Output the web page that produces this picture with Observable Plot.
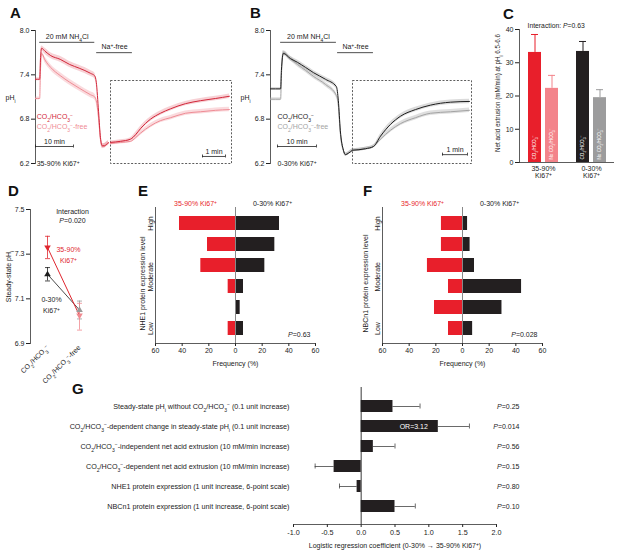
<!DOCTYPE html>
<html><head><meta charset="utf-8">
<script src="https://cdn.jsdelivr.net/npm/d3@7"></script>
<script src="https://cdn.jsdelivr.net/npm/@observablehq/plot@0.6"></script>
<style>
body{margin:0;background:#fff;}
#fig{position:relative;width:617px;height:553px;overflow:hidden;background:#fff;font-family:"Liberation Sans",Arial,sans-serif;color:#222;}
#fig svg{position:absolute;overflow:visible;background:transparent;}
.lt{position:absolute;font-weight:bold;font-size:15px;line-height:15px;font-family:"Liberation Sans",Arial,sans-serif;color:#111;}
</style></head><body><div id="fig"></div>
<script>
// ---------------- DATA ----------------
// Panel A (35-90% Ki67+): time (min), pHi, SEM
const tA = [0, 1.1, 1.3, 1.6, 2.5, 4.0, 6.5, 9.0, 11.5, 14.5, 15.6, 16.0, 16.6, 17.1, 17.6, 18.2, 18.7, 19.2];
const phA_co2 = [7.34, 7.34, 7.60, 7.76, 7.72, 7.66, 7.61, 7.54, 7.49, 7.42, 7.385, 7.30, 6.90, 6.55, 6.44, 6.44, 6.46, 6.485];
const phA_free = [7.08, 7.08, 7.45, 7.69, 7.60, 7.50, 7.39, 7.30, 7.22, 7.13, 7.10, 7.05, 6.82, 6.53, 6.43, 6.44, 6.46, 6.47];
const semA = [0.02, 0.02, 0.03, 0.03, 0.04, 0.04, 0.04, 0.04, 0.04, 0.04, 0.04, 0.04, 0.03, 0.03, 0.03, 0.03, 0.03, 0.03];
// Panel A inset (recovery, min)
const tAz = [0, 0.43, 0.87, 1.09, 1.30, 1.74, 2.17, 2.61, 3.26, 3.91, 4.57, 5.17];
const phAz_co2 = [6.485, 6.50, 6.53, 6.59, 6.67, 6.80, 6.88, 6.94, 7.01, 7.05, 7.08, 7.11];
const phAz_free = [6.47, 6.485, 6.50, 6.55, 6.61, 6.71, 6.78, 6.82, 6.88, 6.90, 6.92, 6.93];
const semAz = [0.02, 0.02, 0.02, 0.03, 0.03, 0.03, 0.03, 0.03, 0.03, 0.03, 0.03, 0.03];
// Panel B (0-30% Ki67+)
const tB = [0, 2.6, 2.8, 3.3, 5.1, 6.9, 9.0, 11.0, 14.1, 16.9, 17.4, 17.9, 18.7, 19.2, 20.0, 21.0];
const phB_co2 = [7.21, 7.21, 7.46, 7.69, 7.62, 7.57, 7.50, 7.43, 7.34, 7.24, 7.05, 6.65, 6.38, 6.32, 6.34, 6.38];
const phB_free = [7.07, 7.07, 7.39, 7.70, 7.62, 7.54, 7.46, 7.38, 7.27, 7.12, 6.99, 6.62, 6.38, 6.32, 6.34, 6.38];
const semB = [0.02, 0.02, 0.03, 0.03, 0.03, 0.03, 0.03, 0.03, 0.03, 0.03, 0.03, 0.03, 0.02, 0.02, 0.02, 0.02];
const tBz = [0, 0.52, 0.84, 1.12, 1.52, 1.92, 2.52, 3.12, 3.92, 4.68];
const phBz_co2 = [6.38, 6.40, 6.43, 6.57, 6.73, 6.84, 6.93, 6.99, 7.03, 7.04];
const phBz_free = [6.38, 6.40, 6.43, 6.53, 6.65, 6.74, 6.82, 6.88, 6.90, 6.92];
const semBz = [0.02, 0.02, 0.02, 0.03, 0.03, 0.03, 0.03, 0.03, 0.03, 0.03];
const phTicks = [6.2, 6.8, 7.4, 8.0];
// solution periods (min)
const solA = [{name: "20 mM NH_{4}Cl", t1: 1.1, t2: 15.6}, {name: "Na^{+}-free", t1: 16.1, t2: 25.5}];
const solB = [{name: "20 mM NH_{4}Cl", t1: 2.6, t2: 16.9}, {name: "Na^{+}-free", t1: 17.2, t2: 26.4}];

// Panel C
const CO2 = "CO_{2}/HCO_{3}^{−}";
const groupsC = ["35-90%\nKi67^{+}", "0-30%\nKi67^{+}"];
const condC = ["with", "without"];
const valuesC = [33.1, 22.3, 33.4, 19.5];
const upperC = [38.5, 26.2, 36.4, 21.9];
const inBarC = [CO2, "No " + CO2];

// Panel D
const condD = [CO2, CO2 + "-free"];
const hiMean = [7.33, 7.025], hiLo = [7.28, 6.96], hiHi = [7.38, 7.08];
const loMean = [7.21, 7.05], loLo = [7.18, 7.01], loHi = [7.24, 7.09];

// Panels E, F: frequency (%) by expression level (6 = high ... 1 = low)
const levels = [6, 5, 4, 3, 2, 1];
const nhe1_hi = [42, 21, 26, 5.5, 0, 5.5];
const nhe1_lo = [33, 29.5, 22, 6, 3.5, 6];
const nbc_hi = [15.8, 15.8, 26.3, 10.5, 21, 10.5];
const nbc_lo = [3.8, 5.7, 9, 44.3, 29.6, 7.6];

// Panel G
const labelsG = [
  "Steady-state pH_{i} without " + CO2 + " (0.1 unit increase)",
  CO2 + "-dependent change in steady-state pH_{i} (0.1 unit increase)",
  CO2 + "-independent net acid extrusion (10 mM/min increase)",
  CO2 + "-dependent net acid extrusion (10 mM/min increase)",
  "NHE1 protein expression (1 unit increase, 6-point scale)",
  "NBCn1 protein expression (1 unit increase, 6-point scale)"
];
const coefG = [0.47, 1.14, 0.18, -0.40, -0.06, 0.50];
const boundG = [0.87, 1.60, 0.50, -0.68, -0.32, 0.80];
const pG = ["0.25", "0.014", "0.56", "0.15", "0.80", "0.10"];
const orLabel = "OR=3.12";

// ---------------- HELPERS ----------------
const fig = document.getElementById("fig");
const baseStyle = {overflow: "visible", background: "transparent", fontFamily: '"Liberation Sans", Arial, sans-serif', fontSize: "7px", color: "#222"};
const NS = "http://www.w3.org/2000/svg";
function tsp(s) { const t = document.createElementNS(NS, "tspan"); t.textContent = s; return t; }
function rich(root) {
  for (const el of root.querySelectorAll("text, tspan")) {
    if (el.childElementCount) continue;
    const s = el.textContent;
    if (!/[_^*]\{/.test(s)) continue;
    el.textContent = "";
    const re = /([_^*])\{([^}]*)\}/g;
    let last = 0, m;
    while ((m = re.exec(s))) {
      if (m.index > last) el.appendChild(tsp(s.slice(last, m.index)));
      const t = tsp(m[2]);
      if (m[1] === "_") { t.setAttribute("baseline-shift", "sub"); t.setAttribute("font-size", "70%"); }
      else if (m[1] === "^") { t.setAttribute("baseline-shift", "super"); t.setAttribute("font-size", "70%"); }
      else t.setAttribute("font-style", "italic");
      el.appendChild(t);
      last = re.lastIndex;
    }
    if (last < s.length) el.appendChild(tsp(s.slice(last)));
  }
}
function mk(opts, left, top) {
  const svg = Plot.plot({...opts, style: {...baseStyle, ...(opts.style || {})}});
  svg.style.position = "absolute";
  svg.style.left = left + "px";
  svg.style.top = top + "px";
  rich(svg);
  fig.appendChild(svg);
}
function letter(ch, x, y) {
  const d = document.createElement("div"); d.className = "lt"; d.textContent = ch;
  d.style.left = x + "px"; d.style.top = y + "px"; fig.appendChild(d);
}
const rows = (t, ph, se) => t.map((x, i) => ({t: x, ph: ph[i], se: se[i]}));
function traceMarks(list) {
  const marks = [];
  for (const s of list) marks.push(Plot.areaY(s.data, {x: "t", y1: d => d.ph - d.se, y2: d => d.ph + d.se, fill: s.band, curve: "monotone-x"}));
  for (const s of list) marks.push(Plot.line(s.data, {x: "t", y: "ph", stroke: s.stroke, strokeWidth: 1, curve: "monotone-x"}));
  return marks;
}
const AX = "#333";
const RED = "#d2273a", RED_L = "#ef8c95", RED_BAND = "rgba(226,90,104,0.28)", RED_LBAND = "rgba(242,160,168,0.38)";
const BLK = "#1e1e1e", GRY = "#a3a3a3", BLK_BAND = "rgba(110,110,110,0.25)", GRY_BAND = "rgba(170,170,170,0.38)";
const CRED = "#e81f2b", CPINK = "#f3848b", CBLK = "#231f20", CGRY = "#9c9c9d";

// ---------------- PANELS A & B ----------------
function tracePanel({left, axisX, tMax, pxPerMin, main, zoom, zoomLeft, zoomWidth, zoomMax, sol, legendT, c1, c2, label, barT, zBar}) {
  const innerW = tMax * pxPerMin;
  const W = 235;
  mk({
    width: W, height: 175, marginLeft: axisX - left, marginRight: W - (axisX - left) - innerW, marginTop: 30, marginBottom: 12,
    x: {domain: [0, tMax], axis: null},
    y: {domain: [6.2, 8.0], ticks: phTicks, tickFormat: d => d.toFixed(1), tickSize: 4, tickPadding: 2, label: null},
    marks: [
      Plot.frame({anchor: "left", stroke: AX, strokeWidth: 0.8}),
      ...traceMarks(main),
      Plot.ruleY([sol[0]], {x1: "t1", x2: "t2", y: 7.84, stroke: "#222", strokeWidth: 0.8}),
      Plot.text([sol[0]], {x: d => (d.t1 + d.t2) / 2, y: 7.84, dy: -6, text: "name", fontSize: 7}),
      Plot.ruleY([sol[1]], {x1: "t1", x2: "t2", y: 7.70, stroke: "#222", strokeWidth: 0.8}),
      Plot.text([sol[1]], {x: d => (d.t1 + d.t2) / 2, y: 7.70, dy: -6, text: "name", fontSize: 7}),
      Plot.text([CO2], {x: legendT, y: 6.83, textAnchor: "start", fill: c1, fontSize: 7}),
      Plot.text([CO2 + "-free"], {x: legendT, y: 6.70, textAnchor: "start", fill: c2, fontSize: 7}),
      Plot.ruleY([barT], {x1: d => d[0], x2: d => d[1], y: 6.43, stroke: "#222", strokeWidth: 0.8}),
      Plot.ruleX(barT, {y1: 6.41, y2: 6.45, stroke: "#222", strokeWidth: 0.8}),
      Plot.text(["10 min"], {x: (barT[0] + barT[1]) / 2, y: 6.43, dy: -5, fontSize: 7}),
      Plot.text([label], {x: legendT, y: 6.2, textAnchor: "start", fontSize: 7}),
      Plot.text(["pH_{i}"], {frameAnchor: "left", dx: -25, dy: 1, textAnchor: "middle", fontSize: 7})
    ]
  }, left, 0);
  mk({
    width: zoomWidth, height: 175, marginLeft: 0, marginRight: 0, marginTop: 30, marginBottom: 12,
    x: {domain: [0, zoomMax], axis: null},
    y: {domain: [6.2, 8.0], axis: null},
    marks: [
      Plot.frame({insetTop: 50, stroke: "#333", strokeWidth: 0.8, strokeDasharray: "2,1.6"}),
      ...traceMarks(zoom),
      Plot.ruleY([zBar], {x1: d => d[0], x2: d => d[1], y: zBar[2], stroke: "#222", strokeWidth: 0.8}),
      Plot.ruleX(zBar.slice(0, 2), {y1: zBar[2] - 0.02, y2: zBar[2] + 0.02, stroke: "#222", strokeWidth: 0.8}),
      Plot.text(["1 min"], {x: (zBar[0] + zBar[1]) / 2, y: zBar[2], dy: -5, fontSize: 7})
    ]
  }, zoomLeft, 0);
}

tracePanel({
  left: 0, axisX: 35, tMax: 19.5, pxPerMin: 3.8,
  main: [{data: rows(tA, phA_free, semA), stroke: RED_L, band: RED_LBAND}, {data: rows(tA, phA_co2, semA), stroke: RED, band: RED_BAND}],
  zoom: [{data: rows(tAz, phAz_free, semAz), stroke: RED_L, band: RED_LBAND}, {data: rows(tAz, phAz_co2, semAz), stroke: RED, band: RED_BAND}],
  zoomLeft: 110, zoomWidth: 121, zoomMax: 5.26, sol: solA, legendT: 0.3, c1: RED, c2: RED_L,
  label: "35-90% Ki67^{+}", barT: [0, 10], zBar: [4.0, 5.0, 6.295]
});
tracePanel({
  left: 235, axisX: 270, tMax: 21, pxPerMin: 3.9,
  main: [{data: rows(tB, phB_free, semB), stroke: GRY, band: GRY_BAND}, {data: rows(tB, phB_co2, semB), stroke: BLK, band: BLK_BAND}],
  zoom: [{data: rows(tBz, phBz_free, semBz), stroke: GRY, band: GRY_BAND}, {data: rows(tBz, phBz_co2, semBz), stroke: BLK, band: BLK_BAND}],
  zoomLeft: 352, zoomWidth: 119, zoomMax: 4.76, sol: solB, legendT: 1.8, c1: BLK, c2: GRY,
  label: "0-30% Ki67^{+}", barT: [1.8, 11.8], zBar: [3.6, 4.6, 6.32]
});

// ---------------- PANEL C ----------------
const dataC = valuesC.map((v, i) => ({group: groupsC[Math.floor(i / 2)], cond: condC[i % 2], value: v, upper: upperC[i], txt: inBarC[i % 2]}));
const keyC = d => d.group + "|" + d.cond;
const keysC = dataC.map(keyC);
const cMargins = {width: 157, height: 190, marginLeft: 59, marginRight: 3, marginTop: 29, marginBottom: 28};
mk({
  ...cMargins,
  fx: {domain: groupsC, paddingInner: 0.3, paddingOuter: 0.135, axis: "bottom", label: null, tickSize: 0, tickPadding: 4},
  x: {domain: condC, paddingInner: 0.26, paddingOuter: 0.13, axis: null},
  y: {domain: [0, 40], axis: null},
  color: {domain: keysC, range: [CRED, CPINK, CBLK, CGRY]},
  marks: [
    Plot.ruleX(dataC, {fx: "group", x: "cond", y1: "value", y2: "upper", stroke: keyC, strokeWidth: 1}),
    Plot.tickY(dataC, {fx: "group", x: "cond", y: "upper", stroke: keyC, strokeWidth: 1, insetLeft: 3, insetRight: 3}),
    Plot.barY(dataC, {fx: "group", x: "cond", y: "value", fill: keyC}),
    Plot.text(dataC, {fx: "group", x: "cond", y: 0, text: "txt", rotate: -90, textAnchor: "start", dy: -3, fill: "white", fontSize: 4.6})
  ]
}, 460, 0);
mk({
  ...cMargins,
  x: {domain: [0, 1], axis: null},
  y: {domain: [0, 40], ticks: [0, 10, 20, 30, 40], tickSize: 4, tickPadding: 2, label: null},
  marks: [
    Plot.frame({anchor: "left", stroke: AX, strokeWidth: 0.8}),
    Plot.ruleY([0], {stroke: AX, strokeWidth: 0.8}),
    Plot.text(["Interaction: *{P}=0.63"], {frameAnchor: "top-left", dx: 8, dy: -4, lineAnchor: "middle", textAnchor: "start", fontSize: 6.8}),
    Plot.text(["Net acid extrusion (mM/min) at pH_{i} 6.5-6.6"], {frameAnchor: "left", rotate: -90, dx: -22, dy: -3, textAnchor: "middle", fontSize: 6.3})
  ]
}, 460, 0);

// ---------------- PANEL D ----------------
const hiD = condD.map((c, i) => ({cond: c, mean: hiMean[i], lo: hiLo[i], hi: hiHi[i]}));
const loD = condD.map((c, i) => ({cond: c, mean: loMean[i], lo: loLo[i], hi: loHi[i]}));
const cap = {draw(ctx, size) { const w = Math.sqrt(size / Math.PI); ctx.moveTo(-w, 0); ctx.lineTo(w, 0); }};
const triDown = {draw(ctx, size) { const w = Math.sqrt(size / Math.PI); ctx.moveTo(-w, -w * 0.6); ctx.lineTo(w, -w * 0.6); ctx.lineTo(0, w * 1.1); ctx.closePath(); }};
const triUp = {draw(ctx, size) { const w = Math.sqrt(size / Math.PI); ctx.moveTo(-w, w * 0.6); ctx.lineTo(w, w * 0.6); ctx.lineTo(0, -w * 1.1); ctx.closePath(); }};
const DRED = "#e0262f", DPINK = "#f08a90", DGRY = "#9a9a9a";
mk({
  width: 140, height: 190, marginLeft: 30, marginRight: 44, marginTop: 29, marginBottom: 27,
  x: {type: "point", domain: condD, padding: 0.53, tickRotate: -45, tickSize: 0, tickPadding: 3, label: null},
  y: {domain: [6.9, 7.5], ticks: [6.9, 7.1, 7.3, 7.5], tickFormat: d => d.toFixed(1), tickSize: 4, tickPadding: 2, label: null},
  marks: [
    Plot.frame({anchor: "left", stroke: AX, strokeWidth: 0.8}),
    Plot.ruleX(loD, {x: "cond", y1: "lo", y2: "hi", stroke: (d, i) => i ? DGRY : BLK, strokeWidth: 0.8}),
    Plot.dot(loD, {x: "cond", y: "lo", symbol: cap, r: 2.5, stroke: (d, i) => i ? DGRY : BLK, fill: "none", strokeWidth: 0.8}),
    Plot.dot(loD, {x: "cond", y: "hi", symbol: cap, r: 2.5, stroke: (d, i) => i ? DGRY : BLK, fill: "none", strokeWidth: 0.8}),
    Plot.ruleX(hiD, {x: "cond", y1: "lo", y2: "hi", stroke: (d, i) => i ? DPINK : DRED, strokeWidth: 0.8}),
    Plot.dot(hiD, {x: "cond", y: "lo", symbol: cap, r: 2.5, stroke: (d, i) => i ? DPINK : DRED, fill: "none", strokeWidth: 0.8}),
    Plot.dot(hiD, {x: "cond", y: "hi", symbol: cap, r: 2.5, stroke: (d, i) => i ? DPINK : DRED, fill: "none", strokeWidth: 0.8}),
    Plot.line(loD, {x: "cond", y: "mean", stroke: BLK, strokeWidth: 0.8}),
    Plot.line(hiD, {x: "cond", y: "mean", stroke: DRED, strokeWidth: 1}),
    Plot.dot(loD, {x: "cond", y: "mean", symbol: triUp, r: 3.3, fill: (d, i) => i ? DGRY : BLK, stroke: "none"}),
    Plot.dot(hiD, {x: "cond", y: "mean", symbol: triDown, r: 3.3, fill: (d, i) => i ? DPINK : DRED, stroke: "none"}),
    Plot.text(["Interaction\n*{P}=0.020"], {frameAnchor: "top", dx: 9, dy: 6, lineAnchor: "middle", textAnchor: "middle", lineHeight: 1.3, fontSize: 7}),
    Plot.text(["35-90%\nKi67^{+}"], {frameAnchor: "left", y: 7.30, dx: 38, lineAnchor: "middle", textAnchor: "middle", lineHeight: 1.5, fill: DRED, fontSize: 7}),
    Plot.text(["0-30%\nKi67^{+}"], {frameAnchor: "left", y: 7.077, dx: 21, lineAnchor: "middle", textAnchor: "middle", lineHeight: 1.5, fill: BLK, fontSize: 7}),
    Plot.text(["Steady-state pH_{i}"], {frameAnchor: "left", rotate: -90, dx: -22, textAnchor: "middle", fontSize: 7})
  ]
}, 0, 180);

// ---------------- PANELS E & F ----------------
function freqPanel(left, mL, hi, lo, title, titleDx, pText) {
  const data = levels.map((l, i) => ({level: l, hi: hi[i], lo: lo[i]}));
  const lab = {frameAnchor: "left", dx: -5, rotate: -90, textAnchor: "middle", fontSize: 7};
  mk({
    width: 185, height: 185, marginLeft: mL, marginRight: 185 - mL - 160, marginTop: 22, marginBottom: 27,
    x: {domain: [-60, 60], ticks: [-60, -40, -20, 0, 20, 40, 60], tickFormat: d => String(Math.abs(d)), tickSize: 3, tickPadding: 2, label: null},
    y: {type: "band", domain: levels, padding: 0.34, axis: null},
    marks: [
      Plot.barX(data, {y: "level", x1: 0, x2: d => -d.hi, fill: CRED}),
      Plot.barX(data, {y: "level", x1: 0, x2: "lo", fill: CBLK}),
      Plot.ruleX([0], {stroke: "#888", strokeWidth: 1}),
      Plot.frame({anchor: "left", stroke: AX, strokeWidth: 0.8}),
      Plot.frame({anchor: "bottom", stroke: AX, strokeWidth: 0.8}),
      Plot.text(["High"], {...lab, y: 6}),
      Plot.text(["Moderate"], {...lab, y: 4, dy: 11.3}),
      Plot.text(["Low"], {...lab, y: 1}),
      Plot.text([title], {frameAnchor: "left", dx: titleDx, dy: 8, rotate: -90, textAnchor: "middle", fontSize: 7}),
      Plot.text(["35-90% Ki67^{+}"], {frameAnchor: "top", dx: -40, dy: -4, lineAnchor: "middle", textAnchor: "middle", fill: CRED, fontSize: 7}),
      Plot.text(["0-30% Ki67^{+}"], {frameAnchor: "top", dx: 37, dy: -4, lineAnchor: "middle", textAnchor: "middle", fill: "#222", fontSize: 7}),
      Plot.text([pText], {frameAnchor: "bottom-right", dx: -5, dy: -9, lineAnchor: "middle", textAnchor: "end", fontSize: 7}),
      Plot.text(["Frequency (%)"], {frameAnchor: "bottom", dy: 20, lineAnchor: "middle", textAnchor: "middle", fontSize: 7})
    ]
  }, left, 185);
}
freqPanel(140, 15, nhe1_hi, nhe1_lo, "NHE1 protein expression level", -13, "*{P}=0.63");
freqPanel(365, 17, nbc_hi, nbc_lo, "NBCn1 protein expression level", -17, "*{P}=0.028");

// ---------------- PANEL G ----------------
const dataG = labelsG.map((l, i) => ({label: l, coef: coefG[i], bound: boundG[i], p: pG[i]}));
mk({
  width: 617, height: 173, marginLeft: 293, marginRight: 121, marginTop: 7, marginBottom: 29,
  style: {fontSize: "7.2px"},
  x: {domain: [-1, 2], ticks: [-1, -0.5, 0, 0.5, 1, 1.5, 2], tickFormat: d => d.toFixed(1), tickSize: 3, tickPadding: 2, label: null},
  y: {domain: labelsG, padding: 0.4, insetTop: 4, insetBottom: 4, tickSize: 0, tickPadding: 4, label: null},
  marks: [
    Plot.ruleY(dataG, {x1: "coef", x2: "bound", y: "label", stroke: "#444", strokeWidth: 0.8}),
    Plot.tickX(dataG, {x: "bound", y: "label", stroke: "#444", strokeWidth: 0.8, insetTop: 3.5, insetBottom: 3.5}),
    Plot.barX(dataG, {x1: 0, x2: "coef", y: "label", fill: CBLK}),
    Plot.ruleX([0], {stroke: "#222", strokeWidth: 0.9}),
    Plot.frame({anchor: "bottom", stroke: AX, strokeWidth: 0.8}),
    Plot.text(dataG, {y: "label", text: d => "*{P}=" + d.p, frameAnchor: "right", dx: 23, textAnchor: "end", fontSize: 7}),
    Plot.text([dataG[1]], {x: d => d.coef / 2, y: "label", text: () => orLabel, dx: 14, textAnchor: "middle", fill: "white", fontSize: 7}),
    Plot.text(["Logistic regression coefficient (0-30% → 35-90% Ki67^{+})"], {frameAnchor: "bottom", dy: 21, lineAnchor: "middle", textAnchor: "middle", fontSize: 7})
  ]
}, 0, 380);

// ---------------- PANEL LETTERS ----------------
letter("A", 10, 5); letter("B", 250, 5); letter("C", 503, 6);
letter("D", 8, 183); letter("E", 138, 183); letter("F", 363, 183); letter("G", 72, 381);
</script></body></html>
